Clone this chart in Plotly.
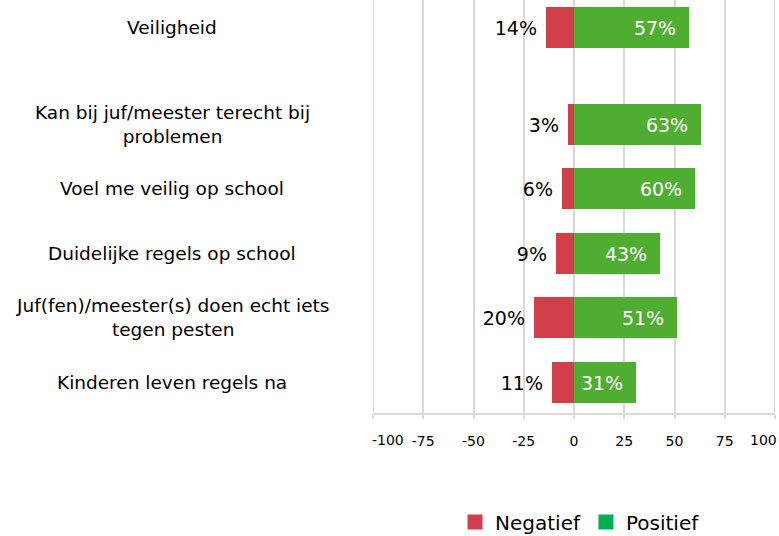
import plotly.graph_objects as go

categories = [
    "Veiligheid",
    "Kan bij juf/meester terecht bij<br>problemen",
    "Voel me veilig op school",
    "Duidelijke regels op school",
    "Juf(fen)/meester(s) doen echt iets<br>tegen pesten",
    "Kinderen leven regels na",
]
negatief = [14, 3, 6, 9, 20, 11]
positief = [57, 63, 60, 43, 51, 31]
x_ticks = [-100, -75, -50, -25, 0, 25, 50, 75, 100]

# vertical slot positions (layout): gap under the heading row
ypos = [5.5, 4, 3, 2, 1, 0]

RED = "#D13F4B"
GREEN = "#4FAE32"
LEGEND_GREEN = "#00B050"
GRID = "#D9D9D9"
FONT = "DejaVu Sans"

fig = go.Figure()
fig.add_trace(go.Bar(
    y=ypos, x=[-v for v in negatief], orientation="h",
    marker=dict(color=RED, line=dict(width=0)), width=0.636,
    text=[f"{v}%" for v in negatief], texttemplate="%{text}\u00a0",
    textposition="outside", textfont=dict(color="black", size=19, family=FONT),
    cliponaxis=False, showlegend=False, hoverinfo="skip",
))
fig.add_trace(go.Bar(
    y=ypos, x=positief, orientation="h",
    marker=dict(color=GREEN, line=dict(width=0)), width=0.636,
    text=[f"{v}%" for v in positief], texttemplate="%{text}\u00a0\u2009",
    textposition="inside", insidetextanchor="end", textangle=0,
    insidetextfont=dict(color="white", size=19, family=FONT),
    showlegend=False, hoverinfo="skip",
))
# legend entries
fig.add_trace(go.Scatter(x=[None], y=[None], mode="markers", name="Negatief",
                         marker=dict(symbol="square", size=15, color=RED)))
fig.add_trace(go.Scatter(x=[None], y=[None], mode="markers", name="Positief",
                         marker=dict(symbol="square", size=15, color=LEGEND_GREEN)))

for cat, y in zip(categories, ypos):
    fig.add_annotation(x=-0.5, xref="paper", y=y, yref="y", text=cat,
                       showarrow=False, xanchor="center", yanchor="middle",
                       align="center", font=dict(size=18.5, color="black", family=FONT))

# edge gridlines (plotly drops grid lines at the axis ends)
for xv in (x_ticks[0], x_ticks[-1]):
    fig.add_shape(type="line", x0=xv, x1=xv, y0=0, y1=1, xref="x", yref="paper",
                  line=dict(color=GRID, width=2), layer="below")

# end tick labels, pulled inside like the original
fig.add_annotation(x=x_ticks[0], xref="x", y=0, yref="paper", yshift=-27, xshift=-3,
                   text=str(x_ticks[0]), showarrow=False, xanchor="left", yanchor="middle",
                   font=dict(size=14, color="black", family=FONT))
fig.add_annotation(x=x_ticks[-1], xref="x", y=0, yref="paper", yshift=-27, xshift=4,
                   text=str(x_ticks[-1]), showarrow=False, xanchor="right", yanchor="middle",
                   font=dict(size=14, color="black", family=FONT))

tick_text = [str(t) for t in x_ticks]
tick_text[0] = ""
tick_text[-1] = ""

fig.update_layout(
    width=779, height=536,
    margin=dict(l=373, r=4, t=0, b=123, autoexpand=False),
    paper_bgcolor="white", plot_bgcolor="white",
    barmode="overlay", bargap=0,
    font=dict(family=FONT, color="black"),
    legend=dict(orientation="h", x=0.515, xanchor="center", y=-0.264, yanchor="middle",
                font=dict(size=20, color="black", family=FONT), itemclick=False),
    xaxis=dict(range=[-100, 100], tickvals=x_ticks, ticktext=tick_text,
               showgrid=True, gridcolor=GRID, gridwidth=2, zeroline=False,
               showline=True, linecolor=GRID, linewidth=2,
               ticks="outside", ticklen=4, tickwidth=2, tickcolor=GRID,
               tickfont=dict(size=14, color="black", family=FONT), ticklabelstandoff=10,
               fixedrange=True),
    yaxis=dict(range=[-0.476, 5.927], showgrid=False, zeroline=False, showline=False,
               showticklabels=False, fixedrange=True),
)

fig.write_html("out.html", post_script="document.body.style.margin='0';",
               config={"displayModeBar": False})
